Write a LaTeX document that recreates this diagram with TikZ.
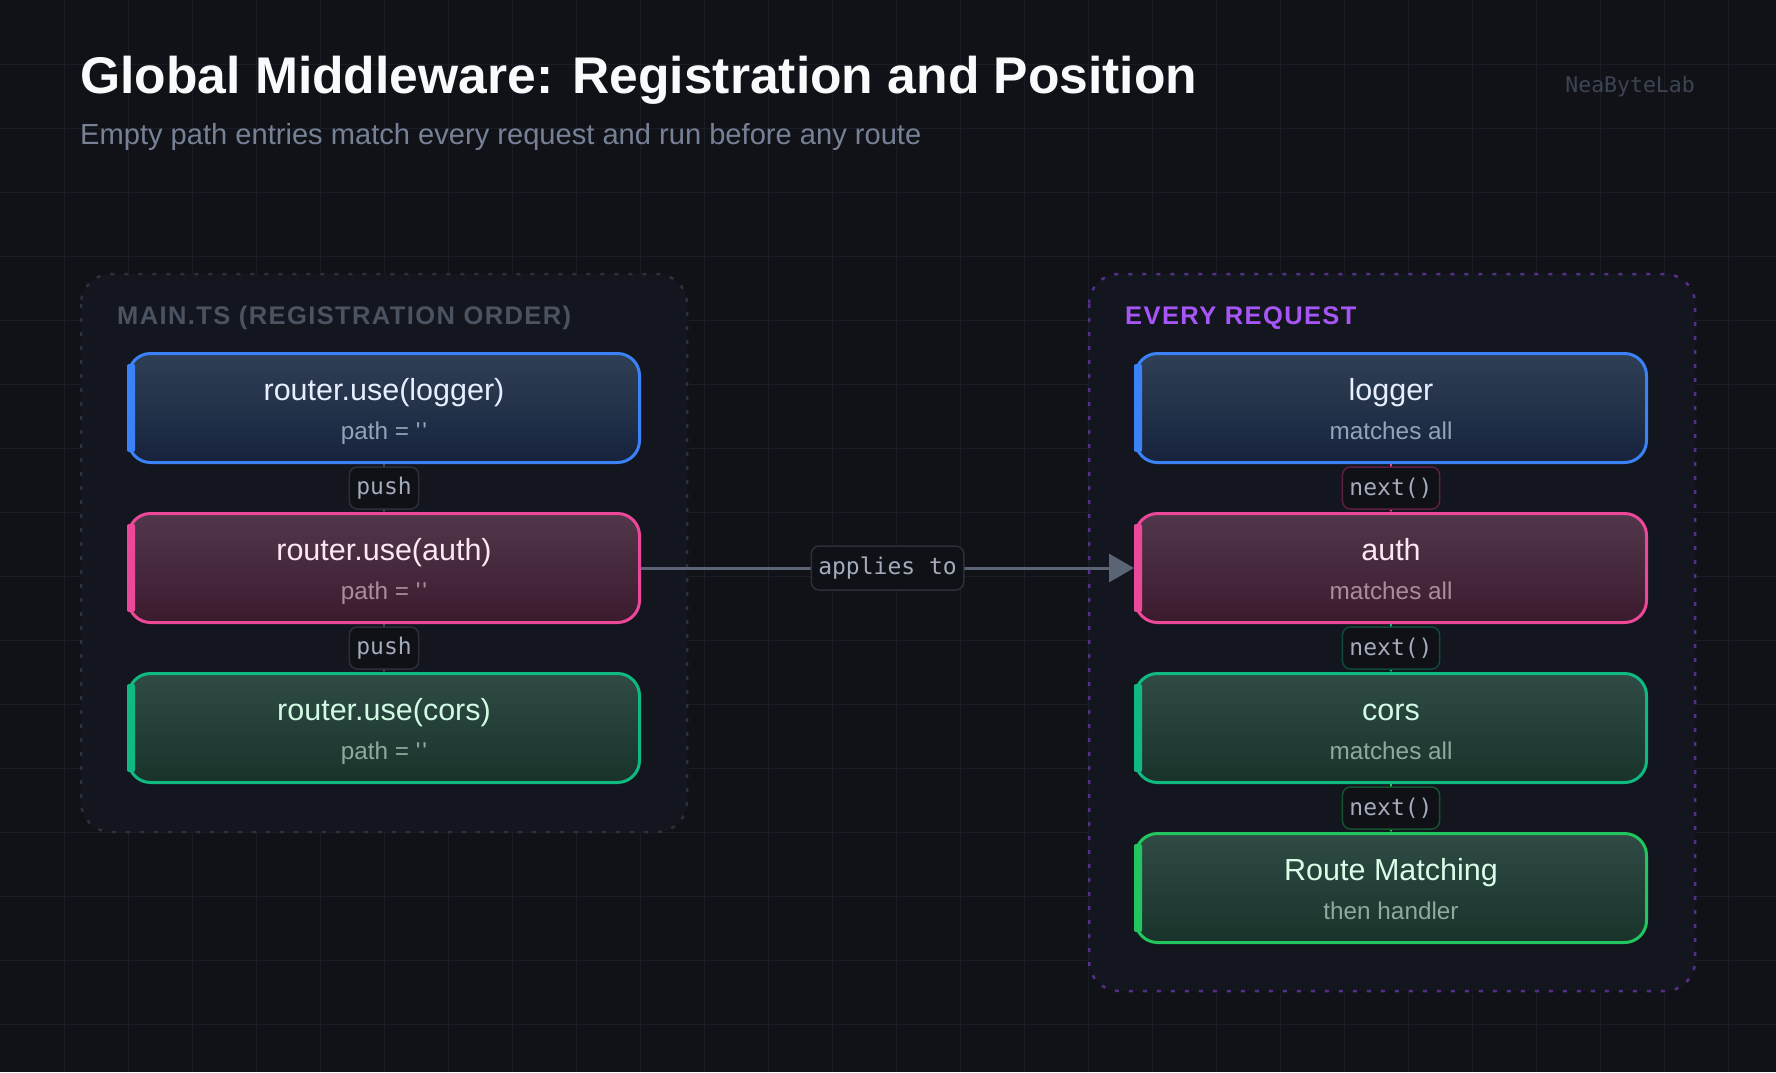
\documentclass[tikz,border=0pt]{standalone}
\usepackage{fontspec}
\setmainfont{Liberation Sans}
\newfontfamily\monofont{DejaVu Sans Mono}
\newfontfamily\qfont{Liberation Sans}
\newfontfamily\headfont[LetterSpace=5.5]{Liberation Sans}
\usetikzlibrary{arrows.meta,calc}
\definecolor{bgc}{HTML}{101217}
\definecolor{gridc}{HTML}{1A1D25}
\definecolor{panelc}{HTML}{13161E}
\definecolor{panelL}{HTML}{2C313B}
\definecolor{panelR}{HTML}{55308A}
\definecolor{headL}{HTML}{4B5260}
\definecolor{headR}{HTML}{A855F7}
\definecolor{titlec}{HTML}{F8FAFC}
\definecolor{subc}{HTML}{778196}
\definecolor{markc}{HTML}{3D4452}
% blue scheme
\definecolor{blueb}{HTML}{3B82F6}
\definecolor{bluet}{HTML}{2F3F55}
\definecolor{bluef}{HTML}{17233D}
\definecolor{bluex}{HTML}{E6EEFF}
\definecolor{blues}{HTML}{94A3B8}
% pink scheme
\definecolor{pinkb}{HTML}{EC4899}
\definecolor{pinkt}{HTML}{51374B}
\definecolor{pinkf}{HTML}{3C1A2E}
\definecolor{pinkx}{HTML}{FDE7F3}
\definecolor{pinks}{HTML}{A88D9C}
% teal scheme
\definecolor{tealb}{HTML}{10B981}
\definecolor{tealt}{HTML}{304B45}
\definecolor{tealf}{HTML}{17332A}
\definecolor{tealx}{HTML}{D1FAE5}
\definecolor{teals}{HTML}{8FA99E}
% green scheme
\definecolor{greenb}{HTML}{22C55E}
\definecolor{greent}{HTML}{304B45}
\definecolor{greenf}{HTML}{17332A}
\definecolor{greenx}{HTML}{DCFCE7}
\definecolor{greens}{HTML}{8FA99E}
% labels
\definecolor{lblfill}{HTML}{0F1116}
\definecolor{lblgray}{HTML}{2A2F38}
\definecolor{lblpink}{HTML}{5E1F42}
\definecolor{lblteal}{HTML}{0F4A3A}
\definecolor{lblgreen}{HTML}{14532D}
\definecolor{lbltext}{HTML}{A3ABBC}
\definecolor{edgegray}{HTML}{4B5563}
\definecolor{applyc}{HTML}{5B6475}

\newcommand\mwbox[6]{%
  \node[mbox, draw=#4b, top color=#4t, bottom color=#4f] (#1) at (#2,#3+56) {};
  \fill[#4b, rounded corners=2pt] (#2-257,#3+12) rectangle (#2-249,#3+100);
  \node[btitle, text=#4x] (#1-t) at (#2,#3+48) {#5};
  \node[bsub, text=#4s] (#1-s) at (#2,#3+87) {#6};
}
\newcommand\emptyq{{\qfont\symbol{39}\kern2pt\symbol{39}}}

\begin{document}
\begin{tikzpicture}[x=1pt,y=-1pt,
  panel/.style={fill=panelc, line width=2.5pt, dash pattern=on 4pt off 10pt, rounded corners=30pt},
  mbox/.style={line width=3pt, rounded corners=22pt, minimum width=511pt, minimum height=109pt, inner sep=0pt},
  btitle/.style={anchor=base, inner sep=0pt, font=\fontsize{30.5}{36}\selectfont},
  bsub/.style={anchor=base, inner sep=0pt, font=\fontsize{24.3}{28}\selectfont},
  head/.style={anchor=base west, inner sep=0pt, font=\headfont\fontsize{25.5}{30}\selectfont\bfseries},
  lbl/.style={fill=lblfill, line width=1.5pt, rounded corners=8pt, minimum height=42pt, inner xsep=7pt, inner ysep=0pt, text=lbltext, font=\monofont\fontsize{23}{26}\selectfont},
  flow/.style={line width=2pt, -{Stealth[length=5pt,width=7pt]}},
]
\fill[bgc] (0,0) rectangle (1776,1072);
\useasboundingbox (0,0) rectangle (1776,1072);
\foreach \i in {1,...,27} \draw[gridc, line width=1pt] (\i*64,0) -- (\i*64,1072);
\foreach \j in {1,...,16} \draw[gridc, line width=1pt] (0,\j*64) -- (1776,\j*64);

% title
\node[anchor=base west, inner sep=0pt, text=titlec, font=\fontsize{51.6}{60}\selectfont\bfseries] (title) at (80,93) {Global Middleware: Registration and Position};
\node[anchor=base west, inner sep=0pt, text=subc, font=\fontsize{29.1}{34}\selectfont] (subtitle) at (80,144) {Empty path entries match every request and run before any route};
\node[anchor=base east, inner sep=0pt, text=markc, font=\monofont\fontsize{21.5}{26}\selectfont] (mark) at (1695,92) {NeaByteLab};

% panels
\draw[panel, draw=panelL] (81,274) rectangle (687,832);
\draw[panel, draw=panelR] (1089,274) rectangle (1695,991);
\node[head, text=headL] (headL) at (117,324) {MAIN.TS (REGISTRATION ORDER)};
\node[head, text=headR] (headR) at (1125,324) {EVERY REQUEST};

% left boxes
\mwbox{lreg1}{384}{352}{blue}{router.use(logger)}{path = \emptyq}
\mwbox{lreg2}{384}{512}{pink}{router.use(auth)}{path = \emptyq}
\mwbox{lreg3}{384}{672}{teal}{router.use(cors)}{path = \emptyq}

% right boxes
\mwbox{rreq1}{1391}{352}{blue}{logger}{matches all}
\mwbox{rreq2}{1391}{512}{pink}{auth}{matches all}
\mwbox{rreq3}{1391}{672}{teal}{cors}{matches all}
\mwbox{rreq4}{1391}{832}{green}{Route Matching}{then handler}

% left edges
\draw[flow, edgegray] (lreg1) -- (lreg2) node[midway, lbl, draw=lblgray] (push1) {push};
\draw[flow, edgegray] (lreg2) -- (lreg3) node[midway, lbl, draw=lblgray] (push2) {push};

% right edges
\draw[flow, pinkb] (rreq1) -- (rreq2) node[midway, lbl, draw=lblpink] (next1) {next()};
\draw[flow, tealb] (rreq2) -- (rreq3) node[midway, lbl, draw=lblteal] (next2) {next()};
\draw[flow, greenb] (rreq3) -- (rreq4) node[midway, lbl, draw=lblgreen] (next3) {next()};

% applies to
\draw[applyc, line width=3pt, -{Triangle[length=25pt,width=28pt]}] (lreg2) -- (rreq2)
  node[pos=0.5, lbl, draw=lblgray, minimum height=44pt] (applies) {applies to};
\end{tikzpicture}
\end{document}
